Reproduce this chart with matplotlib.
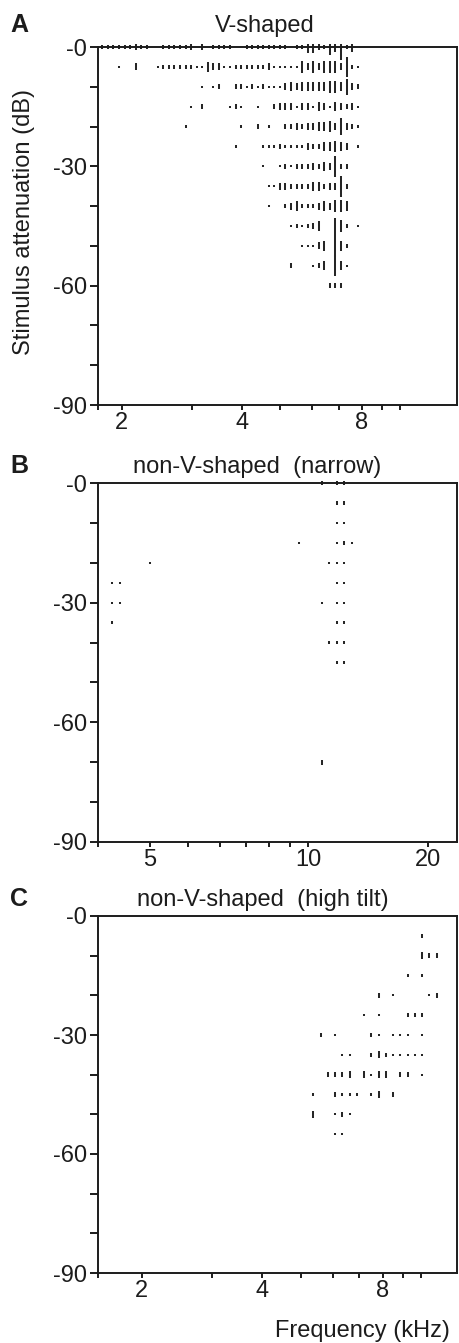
import numpy as np
import matplotlib
matplotlib.use("Agg")
import matplotlib.pyplot as plt
from matplotlib.ticker import FixedLocator, FixedFormatter, NullLocator
from matplotlib.transforms import Bbox, TransformedBbox

plt.rcParams["font.family"] = ["Liberation Sans", "DejaVu Sans"]

# ---------------------------------------------------------------- data
# Stimulus frequency grids (kHz), geometric steps from a start frequency
freq_a = 1.788 * 2.0 ** (np.arange(47) / 21.62)
freq_b = 3.219 * 2.0 ** (np.arange(33) / 16.0)
freq_c = 5.368 * 2.0 ** (np.arange(18) / 16.6)

# Spike counts per attenuation level (dB).  Each segment is
# (first frequency index, one hex digit per frequency = spike count).
rows_a = {
    0:   [(0,  "2222223220022222303022220022222222022553274b24")],
    -5:  [(3,  "10030001222222114331122222231111153535553921")],
    -10: [(18, "10120022121211134344444554732")],
    -15: [(16, "1020000121001002333133143143231")],
    -20: [(15, "10000000001002010022323344537321")],
    -25: [(24, "10000111211113224454301")],
    -30: [(29, "1001212223243922")],
    -35: [(30, "113322224423392")],
    -40: [(30, "100234222343554")],
    -45: [(34, "1212340075201")],
    -50: [(36, "111340a42")],
    -55: [(34, "20001240941")],
    -60: [(41, "222")],
}

rows_b = {
    0:   [(28, "2022")],
    -5:  [(30, "22")],
    -10: [(30, "11")],
    -15: [(25, "1"), (30, "121")],
    -20: [(5, "1"), (29, "111")],
    -25: [(0, "11"), (30, "11")],
    -30: [(0, "11"), (28, "1011")],
    -35: [(0, "1"), (30, "11")],
    -40: [(29, "111")],
    -45: [(30, "11")],
    -70: [(28, "2")],
}

rows_c = {
    -5:  [(15, "2")],
    -10: [(15, "322")],
    -15: [(13, "101")],
    -20: [(9, "201000012")],
    -25: [(7, "101000222")],
    -30: [(1, "201000021011101")],
    -35: [(4, "110023211111")],
    -40: [(2, "22230313302201")],
    -45: [(0, "100211101302")],
    -50: [(0, "300121")],
    -55: [(3, "11")],
}

titles = ["V-shaped", "non-V-shaped  (narrow)", "non-V-shaped  (high tilt)"]
panel_letters = ["A", "B", "C"]

y_ticks = [0, -10, -20, -30, -40, -50, -60, -70, -80, -90]
y_ticklabels = ["-0", "", "", "-30", "", "", "-60", "", "", "-90"]

x_ticks_ac = [2, 3, 4, 5, 6, 7, 8, 9, 10]
x_ticklabels_ac = ["2", "", "4", "", "", "", "8", "", ""]
x_ticks_b = [4, 5, 6, 7, 8, 9, 10, 20]
x_ticklabels_b = ["5", "", "", "", "", "", "10", "20"]

y_label = "Stimulus attenuation (dB)"
x_label = "Frequency (kHz)"

# ---------------------------------------------------------------- style
W_PX, H_PX, DPI = 459, 1343, 100
INK = "#1c1c1c"
MARK_INK = "#262626"
FS = 17
DB_PER_SPIKE = 0.58
MARK_LW = 1.45
SPINE_LW = 1.4

fig = plt.figure(figsize=(W_PX / DPI, H_PX / DPI), dpi=DPI)
fig.patch.set_facecolor("white")


def fig_rect(left, top, right, bottom):
    return [left / W_PX, 1 - bottom / H_PX, (right - left) / W_PX, (bottom - top) / H_PX]


def collect(freqs, rows):
    xs, ys, ns = [], [], []
    for level, segments in rows.items():
        for start, run in segments:
            for i, ch in enumerate(run):
                n = int(ch, 16)
                if n:
                    xs.append(freqs[start + i])
                    ys.append(level)
                    ns.append(n)
    return np.array(xs), np.array(ys, float), np.array(ns, float)


panels = [
    dict(box=(97.5, 47, 457, 405), freqs=freq_a, rows=rows_a, xlim=(1.739, 13.87),
         xt=x_ticks_ac, xl=x_ticklabels_ac, base=32),
    dict(box=(97.5, 483, 457, 842), freqs=freq_b, rows=rows_b, xlim=(2.951, 23.73),
         xt=x_ticks_b, xl=x_ticklabels_b, base=473),
    dict(box=(97.5, 916, 456.7, 1273), freqs=freq_c, rows=rows_c, xlim=(1.551, 12.25),
         xt=x_ticks_ac, xl=x_ticklabels_ac, base=906),
]
title_x = [265, 257.5, 263]

for k, p in enumerate(panels):
    left, top, right, bottom = p["box"]
    ax = fig.add_axes(fig_rect(left, top, right, bottom))
    ax.set_facecolor("white")
    ax.set_xscale("log")
    ax.set_xlim(*p["xlim"])
    ax.set_ylim(-90, 0)

    xs, ys, ns = collect(p["freqs"], p["rows"])
    half = ns * DB_PER_SPIKE / 2
    coll = ax.vlines(xs, ys - half, ys + half, colors=MARK_INK, linewidth=MARK_LW,
                     capstyle="butt")
    clip = TransformedBbox(
        Bbox.from_extents(left / W_PX, 1 - bottom / H_PX, right / W_PX, 1 - (top - 3) / H_PX),
        fig.transFigure)
    coll.set_clip_box(clip)

    ax.xaxis.set_major_locator(FixedLocator([p["xlim"][0]] + p["xt"]))
    ax.xaxis.set_major_formatter(FixedFormatter([""] + p["xl"]))
    ax.xaxis.set_minor_locator(NullLocator())
    ax.yaxis.set_major_locator(FixedLocator(y_ticks))
    ax.yaxis.set_major_formatter(FixedFormatter(y_ticklabels))
    ax.yaxis.set_minor_locator(NullLocator())
    ax.tick_params(axis="y", direction="out", length=5.8, width=SPINE_LW, pad=1.8,
                   labelsize=FS, colors=INK)
    ax.tick_params(axis="x", direction="out", length=3.6, width=SPINE_LW, pad=1.5,
                   labelsize=FS, colors=INK)
    for s in ax.spines.values():
        s.set_linewidth(SPINE_LW)
        s.set_color(INK)

    fig.text(title_x[k] / W_PX, 1 - p["base"] / H_PX, titles[k], ha="center",
             va="baseline", fontsize=FS, color=INK)
    fig.text(10 / W_PX, 1 - p["base"] / H_PX, panel_letters[k], ha="left",
             va="baseline", fontsize=18, fontweight="bold", color=INK)

fig.text(24 / W_PX, 1 - 222 / H_PX, y_label, rotation=90, ha="center", va="center",
         fontsize=FS, color=INK)
fig.text(450 / W_PX, 1 - 1337 / H_PX, x_label, ha="right", va="baseline",
         fontsize=FS, color=INK)

fig.savefig("out.png", dpi=DPI, facecolor="white")
